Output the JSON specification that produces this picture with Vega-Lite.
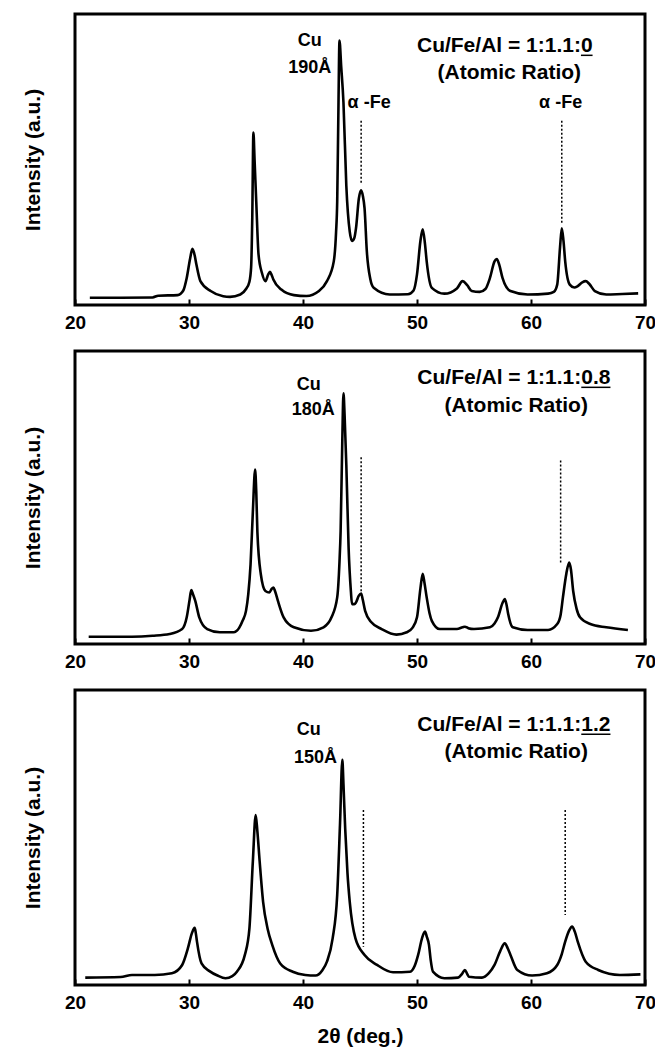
{
  "$schema": "https://vega.github.io/schema/vega-lite/v6.json",
  "padding": {"left": 20, "top": 12, "right": 0, "bottom": 0},
  "config": {
    "view": {"stroke": "black", "strokeWidth": 3},
    "font": "Liberation Sans",
    "axis": {"grid": false, "domain": false, "labelFont": "Liberation Sans", "labelFontWeight": "bold", "labelFontSize": 19, "labelColor": "black", "titleFont": "Liberation Sans", "titleFontWeight": "bold", "titleFontSize": 21, "titleColor": "black"},
    "concat": {"spacing": 15},
    "text": {"font": "Liberation Sans", "fontWeight": "bold", "color": "black"}
  },
  "datasets": {
    "xrd": [
      {"p":1,"x":21.3,"y":2.5},{"p":1,"x":24,"y":2.5},{"p":1,"x":26.8,"y":2.6},{"p":1,"x":27.3,"y":3.2},{"p":1,"x":29,"y":3.4},{"p":1,"x":29.5,"y":5},{"p":1,"x":29.8,"y":9.3},{"p":1,"x":30.1,"y":16},{"p":1,"x":30.3,"y":19.3},{"p":1,"x":30.5,"y":17},{"p":1,"x":30.65,"y":13.9},{"p":1,"x":31.0,"y":8.2},{"p":1,"x":31.9,"y":4.8},{"p":1,"x":33.0,"y":3.0},{"p":1,"x":33.6,"y":2.8},{"p":1,"x":34.5,"y":3.6},{"p":1,"x":35.0,"y":5.5},{"p":1,"x":35.3,"y":8},{"p":1,"x":35.45,"y":13},{"p":1,"x":35.55,"y":30},{"p":1,"x":35.65,"y":59.3},{"p":1,"x":35.75,"y":50},{"p":1,"x":35.9,"y":35.5},{"p":1,"x":36.1,"y":17.3},{"p":1,"x":36.4,"y":11},{"p":1,"x":36.7,"y":8.2},{"p":1,"x":36.95,"y":10.5},{"p":1,"x":37.1,"y":11.4},{"p":1,"x":37.25,"y":10.3},{"p":1,"x":37.4,"y":8.75},{"p":1,"x":38.1,"y":5.3},{"p":1,"x":39.2,"y":3.4},{"p":1,"x":40.3,"y":3.1},{"p":1,"x":41.4,"y":4.8},{"p":1,"x":42.1,"y":8.2},{"p":1,"x":42.7,"y":15},{"p":1,"x":42.9,"y":25},{"p":1,"x":43.0,"y":35.5},{"p":1,"x":43.1,"y":65},{"p":1,"x":43.2,"y":90.9},{"p":1,"x":43.35,"y":82},{"p":1,"x":43.55,"y":69.5},{"p":1,"x":43.8,"y":41},{"p":1,"x":44.1,"y":25.2},{"p":1,"x":44.3,"y":22},{"p":1,"x":44.5,"y":23},{"p":1,"x":44.65,"y":26.4},{"p":1,"x":44.9,"y":36.6},{"p":1,"x":45.1,"y":39.4},{"p":1,"x":45.25,"y":37.5},{"p":1,"x":45.4,"y":33.2},{"p":1,"x":45.6,"y":18.4},{"p":1,"x":45.9,"y":9},{"p":1,"x":46.2,"y":5.9},{"p":1,"x":47.6,"y":3.6},{"p":1,"x":49.2,"y":3.7},{"p":1,"x":49.7,"y":5},{"p":1,"x":50.0,"y":10.5},{"p":1,"x":50.3,"y":22},{"p":1,"x":50.5,"y":26},{"p":1,"x":50.7,"y":21},{"p":1,"x":50.85,"y":15},{"p":1,"x":51.3,"y":5.9},{"p":1,"x":52.4,"y":3.9},{"p":1,"x":53.5,"y":5.7},{"p":1,"x":54.0,"y":8.2},{"p":1,"x":54.4,"y":6.8},{"p":1,"x":54.8,"y":4.8},{"p":1,"x":55.5,"y":4.5},{"p":1,"x":56.0,"y":5.5},{"p":1,"x":56.4,"y":9.3},{"p":1,"x":56.8,"y":15},{"p":1,"x":57.0,"y":15.8},{"p":1,"x":57.2,"y":14},{"p":1,"x":57.5,"y":9.3},{"p":1,"x":58.2,"y":4.8},{"p":1,"x":59.7,"y":3.6},{"p":1,"x":61.5,"y":3.9},{"p":1,"x":62.0,"y":4.5},{"p":1,"x":62.3,"y":7},{"p":1,"x":62.55,"y":20},{"p":1,"x":62.7,"y":26.4},{"p":1,"x":62.85,"y":22},{"p":1,"x":63.0,"y":15},{"p":1,"x":63.4,"y":7},{"p":1,"x":63.8,"y":6},{"p":1,"x":64.1,"y":6.5},{"p":1,"x":64.5,"y":7.8},{"p":1,"x":64.8,"y":8.2},{"p":1,"x":65.1,"y":7.3},{"p":1,"x":65.6,"y":4.8},{"p":1,"x":66.6,"y":3.6},{"p":1,"x":68,"y":3.8},{"p":1,"x":69.4,"y":4.0},
      {"p":2,"x":21.2,"y":2.5},{"p":2,"x":25,"y":2.5},{"p":2,"x":26.8,"y":2.8},{"p":2,"x":28.3,"y":3.4},{"p":2,"x":29.4,"y":5.1},{"p":2,"x":29.8,"y":9.1},{"p":2,"x":30.05,"y":15},{"p":2,"x":30.2,"y":18.4},{"p":2,"x":30.35,"y":17},{"p":2,"x":30.55,"y":14.7},{"p":2,"x":30.9,"y":9.1},{"p":2,"x":31.6,"y":5.1},{"p":2,"x":32.7,"y":4.0},{"p":2,"x":33.9,"y":4.0},{"p":2,"x":34.4,"y":5.5},{"p":2,"x":34.7,"y":7.9},{"p":2,"x":35.0,"y":11.3},{"p":2,"x":35.2,"y":17},{"p":2,"x":35.4,"y":27.2},{"p":2,"x":35.6,"y":45},{"p":2,"x":35.8,"y":59.5},{"p":2,"x":35.9,"y":52},{"p":2,"x":36.0,"y":38.1},{"p":2,"x":36.3,"y":23.8},{"p":2,"x":36.7,"y":18.1},{"p":2,"x":37.05,"y":17.6},{"p":2,"x":37.25,"y":18.8},{"p":2,"x":37.4,"y":19.3},{"p":2,"x":37.55,"y":18},{"p":2,"x":37.8,"y":14.7},{"p":2,"x":38.3,"y":9.1},{"p":2,"x":39.2,"y":5.7},{"p":2,"x":40.7,"y":4.5},{"p":2,"x":41.8,"y":5.7},{"p":2,"x":42.5,"y":9.1},{"p":2,"x":43.0,"y":15.9},{"p":2,"x":43.2,"y":28},{"p":2,"x":43.3,"y":38.5},{"p":2,"x":43.45,"y":70},{"p":2,"x":43.55,"y":85.6},{"p":2,"x":43.65,"y":78},{"p":2,"x":43.8,"y":61.2},{"p":2,"x":44.0,"y":32.9},{"p":2,"x":44.2,"y":18},{"p":2,"x":44.3,"y":13.6},{"p":2,"x":44.5,"y":13.6},{"p":2,"x":44.65,"y":14.2},{"p":2,"x":44.9,"y":16.5},{"p":2,"x":45.1,"y":17.2},{"p":2,"x":45.25,"y":15},{"p":2,"x":45.45,"y":11.3},{"p":2,"x":46.0,"y":7.4},{"p":2,"x":46.9,"y":5.1},{"p":2,"x":48.2,"y":3.2},{"p":2,"x":49.1,"y":4.0},{"p":2,"x":49.6,"y":5.5},{"p":2,"x":50.0,"y":9.1},{"p":2,"x":50.3,"y":19},{"p":2,"x":50.5,"y":24.0},{"p":2,"x":50.65,"y":21},{"p":2,"x":50.85,"y":15.9},{"p":2,"x":51.1,"y":10.5},{"p":2,"x":51.3,"y":7.9},{"p":2,"x":52.0,"y":5.1},{"p":2,"x":53.5,"y":5.1},{"p":2,"x":54.0,"y":5.7},{"p":2,"x":54.2,"y":5.9},{"p":2,"x":54.5,"y":5.4},{"p":2,"x":55.0,"y":5.1},{"p":2,"x":56.4,"y":5.7},{"p":2,"x":56.8,"y":7},{"p":2,"x":57.1,"y":9.1},{"p":2,"x":57.5,"y":14},{"p":2,"x":57.7,"y":15.3},{"p":2,"x":57.85,"y":13.5},{"p":2,"x":58.0,"y":10.2},{"p":2,"x":58.4,"y":5.7},{"p":2,"x":59.7,"y":4.8},{"p":2,"x":61.5,"y":4.8},{"p":2,"x":62.3,"y":6.8},{"p":2,"x":62.6,"y":10},{"p":2,"x":62.8,"y":15.9},{"p":2,"x":63.1,"y":24},{"p":2,"x":63.35,"y":27.8},{"p":2,"x":63.5,"y":25.5},{"p":2,"x":63.7,"y":18.1},{"p":2,"x":64.0,"y":12},{"p":2,"x":64.3,"y":9.1},{"p":2,"x":65.2,"y":6.8},{"p":2,"x":66.6,"y":5.7},{"p":2,"x":68.5,"y":4.8},
      {"p":3,"x":20.9,"y":2.5},{"p":3,"x":24.0,"y":2.7},{"p":3,"x":25.0,"y":3.4},{"p":3,"x":27.0,"y":3.4},{"p":3,"x":28.5,"y":4.0},{"p":3,"x":29.4,"y":6.8},{"p":3,"x":29.9,"y":12.4},{"p":3,"x":30.25,"y":17.5},{"p":3,"x":30.5,"y":19.4},{"p":3,"x":30.6,"y":17.5},{"p":3,"x":30.7,"y":14.7},{"p":3,"x":31.1,"y":7.3},{"p":3,"x":31.8,"y":4.7},{"p":3,"x":32.5,"y":3.2},{"p":3,"x":33.2,"y":2.3},{"p":3,"x":33.8,"y":3.0},{"p":3,"x":34.2,"y":4.5},{"p":3,"x":34.9,"y":10.2},{"p":3,"x":35.3,"y":19.2},{"p":3,"x":35.6,"y":41.8},{"p":3,"x":35.85,"y":57.6},{"p":3,"x":36.0,"y":52},{"p":3,"x":36.2,"y":41.8},{"p":3,"x":36.5,"y":28.2},{"p":3,"x":36.9,"y":19},{"p":3,"x":37.3,"y":13.6},{"p":3,"x":38.0,"y":7.3},{"p":3,"x":39.1,"y":4.5},{"p":3,"x":40.2,"y":3.4},{"p":3,"x":41.1,"y":3.2},{"p":3,"x":41.7,"y":5},{"p":3,"x":42.1,"y":7.9},{"p":3,"x":42.6,"y":15.8},{"p":3,"x":43.0,"y":30.5},{"p":3,"x":43.25,"y":55},{"p":3,"x":43.45,"y":76.3},{"p":3,"x":43.55,"y":68},{"p":3,"x":43.7,"y":53.1},{"p":3,"x":43.9,"y":38},{"p":3,"x":44.1,"y":28.2},{"p":3,"x":44.6,"y":15.8},{"p":3,"x":45.4,"y":10.2},{"p":3,"x":46.5,"y":6.8},{"p":3,"x":47.9,"y":4.3},{"p":3,"x":49.4,"y":4.5},{"p":3,"x":49.8,"y":6.5},{"p":3,"x":50.1,"y":10.2},{"p":3,"x":50.45,"y":16},{"p":3,"x":50.7,"y":18.1},{"p":3,"x":50.85,"y":16.5},{"p":3,"x":51.05,"y":13.6},{"p":3,"x":51.2,"y":8.5},{"p":3,"x":51.4,"y":4.5},{"p":3,"x":52.4,"y":2.3},{"p":3,"x":53.6,"y":2.5},{"p":3,"x":53.95,"y":3.8},{"p":3,"x":54.2,"y":5.1},{"p":3,"x":54.4,"y":3.8},{"p":3,"x":54.55,"y":2.8},{"p":3,"x":55.7,"y":2.5},{"p":3,"x":56.3,"y":4},{"p":3,"x":56.8,"y":6.8},{"p":3,"x":57.3,"y":11.5},{"p":3,"x":57.7,"y":14.1},{"p":3,"x":57.95,"y":12.5},{"p":3,"x":58.2,"y":10.2},{"p":3,"x":58.8,"y":5.1},{"p":3,"x":60.1,"y":3.2},{"p":3,"x":61.4,"y":4.0},{"p":3,"x":62.3,"y":6.8},{"p":3,"x":62.7,"y":10.5},{"p":3,"x":63.0,"y":14.7},{"p":3,"x":63.35,"y":18.5},{"p":3,"x":63.6,"y":19.8},{"p":3,"x":63.85,"y":18},{"p":3,"x":64.1,"y":14.7},{"p":3,"x":64.8,"y":7.9},{"p":3,"x":65.9,"y":5.1},{"p":3,"x":67.8,"y":3.4},{"p":3,"x":69.6,"y":3.6}
    ],
    "guides": [
      {"p":1,"x":45.1,"y1":63.3,"y2":41.4},{"p":1,"x":62.7,"y1":63.3,"y2":28.0},
      {"p":2,"x":45.1,"y1":63.7,"y2":17.5},{"p":2,"x":62.6,"y1":62.6,"y2":27.5},
      {"p":3,"x":45.3,"y1":59.3,"y2":13.0},{"p":3,"x":63.0,"y1":59.3,"y2":23.7}
    ],
    "underlines": [
      {"p":1,"x":64.38,"x2":65.40,"y":85.8},
      {"p":2,"x":64.41,"x2":66.97,"y":87.6},
      {"p":3,"x":64.41,"x2":66.97,"y":85.0}
    ],
    "labels": [
      {"p":1,"k":"peak","x":40.6,"y":90.6,"t":"Cu"},{"p":1,"k":"peak","x":40.6,"y":81.5,"t":"190Å"},{"p":1,"k":"ratio","x":57.7,"y":88.9,"t":"Cu/Fe/Al = 1:1.1:0"},{"p":1,"k":"ratio","x":58.1,"y":79.8,"t":"(Atomic Ratio)"},{"p":1,"k":"peak","x":45.8,"y":69.5,"t":"α -Fe"},{"p":1,"k":"peak","x":62.6,"y":69.5,"t":"α -Fe"},
      {"p":2,"k":"peak","x":40.5,"y":88.4,"t":"Cu"},{"p":2,"k":"peak","x":40.9,"y":79.9,"t":"180Å"},{"p":2,"k":"ratio","x":58.5,"y":90.7,"t":"Cu/Fe/Al = 1:1.1:0.8"},{"p":2,"k":"ratio","x":58.7,"y":81.1,"t":"(Atomic Ratio)"},
      {"p":3,"k":"peak","x":40.5,"y":86.4,"t":"Cu"},{"p":3,"k":"peak","x":41.1,"y":76.8,"t":"150Å"},{"p":3,"k":"ratio","x":58.5,"y":88.1,"t":"Cu/Fe/Al = 1:1.1:1.2"},{"p":3,"k":"ratio","x":58.7,"y":79.1,"t":"(Atomic Ratio)"}
    ]
  },
  "vconcat": [
    {
      "width": 570, "height": 291,
      "layer": [
        {"data": {"name": "xrd"}, "transform": [{"filter": "datum.p == 1"}],
         "mark": {"type": "line", "interpolate": "monotone", "color": "black", "strokeWidth": 2.6},
         "encoding": {
           "x": {"field": "x", "type": "quantitative", "scale": {"domain": [20, 70], "nice": false}, "axis": {"title": null, "values": [20,30,40,50,60,70], "format": "d", "tickSize": -6, "tickWidth": 2, "tickColor": "black", "labelPadding": 14, "labelFlush": false}},
           "y": {"field": "y", "type": "quantitative", "scale": {"domain": [0, 100], "nice": false}, "axis": {"title": "Intensity (a.u.)", "labels": false, "ticks": false, "titlePadding": 32}}
         }},
        {"data": {"name": "guides"}, "transform": [{"filter": "datum.p == 1"}],
         "mark": {"type": "rule", "strokeDash": [2, 2], "strokeWidth": 1.5, "color": "black"},
         "encoding": {"x": {"field": "x", "type": "quantitative"}, "y": {"field": "y1", "type": "quantitative"}, "y2": {"field": "y2"}}},
        {"data": {"name": "underlines"}, "transform": [{"filter": "datum.p == 1"}],
         "mark": {"type": "rule", "strokeWidth": 1.5, "color": "black"},
         "encoding": {"x": {"field": "x", "type": "quantitative"}, "x2": {"field": "x2"}, "y": {"field": "y", "type": "quantitative"}}},
        {"data": {"name": "labels"}, "transform": [{"filter": "datum.p == 1 && datum.k == 'ratio'"}],
         "mark": {"type": "text", "align": "center", "baseline": "middle", "fontSize": 21},
         "encoding": {"x": {"field": "x", "type": "quantitative"}, "y": {"field": "y", "type": "quantitative"}, "text": {"field": "t"}}},
        {"data": {"name": "labels"}, "transform": [{"filter": "datum.p == 1 && datum.k == 'peak'"}],
         "mark": {"type": "text", "align": "center", "baseline": "middle", "fontSize": 18},
         "encoding": {"x": {"field": "x", "type": "quantitative"}, "y": {"field": "y", "type": "quantitative"}, "text": {"field": "t"}}}
      ]
    },
    {
      "width": 570, "height": 293,
      "layer": [
        {"data": {"name": "xrd"}, "transform": [{"filter": "datum.p == 2"}],
         "mark": {"type": "line", "interpolate": "monotone", "color": "black", "strokeWidth": 2.6},
         "encoding": {
           "x": {"field": "x", "type": "quantitative", "scale": {"domain": [20, 70], "nice": false}, "axis": {"title": null, "values": [20,30,40,50,60,70], "format": "d", "tickSize": -6, "tickWidth": 2, "tickColor": "black", "labelPadding": 14, "labelFlush": false}},
           "y": {"field": "y", "type": "quantitative", "scale": {"domain": [0, 100], "nice": false}, "axis": {"title": "Intensity (a.u.)", "labels": false, "ticks": false, "titlePadding": 32}}
         }},
        {"data": {"name": "guides"}, "transform": [{"filter": "datum.p == 2"}],
         "mark": {"type": "rule", "strokeDash": [2, 2], "strokeWidth": 1.5, "color": "black"},
         "encoding": {"x": {"field": "x", "type": "quantitative"}, "y": {"field": "y1", "type": "quantitative"}, "y2": {"field": "y2"}}},
        {"data": {"name": "underlines"}, "transform": [{"filter": "datum.p == 2"}],
         "mark": {"type": "rule", "strokeWidth": 1.5, "color": "black"},
         "encoding": {"x": {"field": "x", "type": "quantitative"}, "x2": {"field": "x2"}, "y": {"field": "y", "type": "quantitative"}}},
        {"data": {"name": "labels"}, "transform": [{"filter": "datum.p == 2 && datum.k == 'ratio'"}],
         "mark": {"type": "text", "align": "center", "baseline": "middle", "fontSize": 21},
         "encoding": {"x": {"field": "x", "type": "quantitative"}, "y": {"field": "y", "type": "quantitative"}, "text": {"field": "t"}}},
        {"data": {"name": "labels"}, "transform": [{"filter": "datum.p == 2 && datum.k == 'peak'"}],
         "mark": {"type": "text", "align": "center", "baseline": "middle", "fontSize": 18},
         "encoding": {"x": {"field": "x", "type": "quantitative"}, "y": {"field": "y", "type": "quantitative"}, "text": {"field": "t"}}}
      ]
    },
    {
      "width": 570, "height": 295,
      "layer": [
        {"data": {"name": "xrd"}, "transform": [{"filter": "datum.p == 3"}],
         "mark": {"type": "line", "interpolate": "monotone", "color": "black", "strokeWidth": 2.6},
         "encoding": {
           "x": {"field": "x", "type": "quantitative", "scale": {"domain": [20, 70], "nice": false}, "axis": {"title": "2θ (deg.)", "titlePadding": 13, "values": [20,30,40,50,60,70], "format": "d", "tickSize": -6, "tickWidth": 2, "tickColor": "black", "labelPadding": 14, "labelFlush": false}},
           "y": {"field": "y", "type": "quantitative", "scale": {"domain": [0, 100], "nice": false}, "axis": {"title": "Intensity (a.u.)", "labels": false, "ticks": false, "titlePadding": 32}}
         }},
        {"data": {"name": "guides"}, "transform": [{"filter": "datum.p == 3"}],
         "mark": {"type": "rule", "strokeDash": [2, 2], "strokeWidth": 1.5, "color": "black"},
         "encoding": {"x": {"field": "x", "type": "quantitative"}, "y": {"field": "y1", "type": "quantitative"}, "y2": {"field": "y2"}}},
        {"data": {"name": "underlines"}, "transform": [{"filter": "datum.p == 3"}],
         "mark": {"type": "rule", "strokeWidth": 1.5, "color": "black"},
         "encoding": {"x": {"field": "x", "type": "quantitative"}, "x2": {"field": "x2"}, "y": {"field": "y", "type": "quantitative"}}},
        {"data": {"name": "labels"}, "transform": [{"filter": "datum.p == 3 && datum.k == 'ratio'"}],
         "mark": {"type": "text", "align": "center", "baseline": "middle", "fontSize": 21},
         "encoding": {"x": {"field": "x", "type": "quantitative"}, "y": {"field": "y", "type": "quantitative"}, "text": {"field": "t"}}},
        {"data": {"name": "labels"}, "transform": [{"filter": "datum.p == 3 && datum.k == 'peak'"}],
         "mark": {"type": "text", "align": "center", "baseline": "middle", "fontSize": 18},
         "encoding": {"x": {"field": "x", "type": "quantitative"}, "y": {"field": "y", "type": "quantitative"}, "text": {"field": "t"}}}
      ]
    }
  ]
}
